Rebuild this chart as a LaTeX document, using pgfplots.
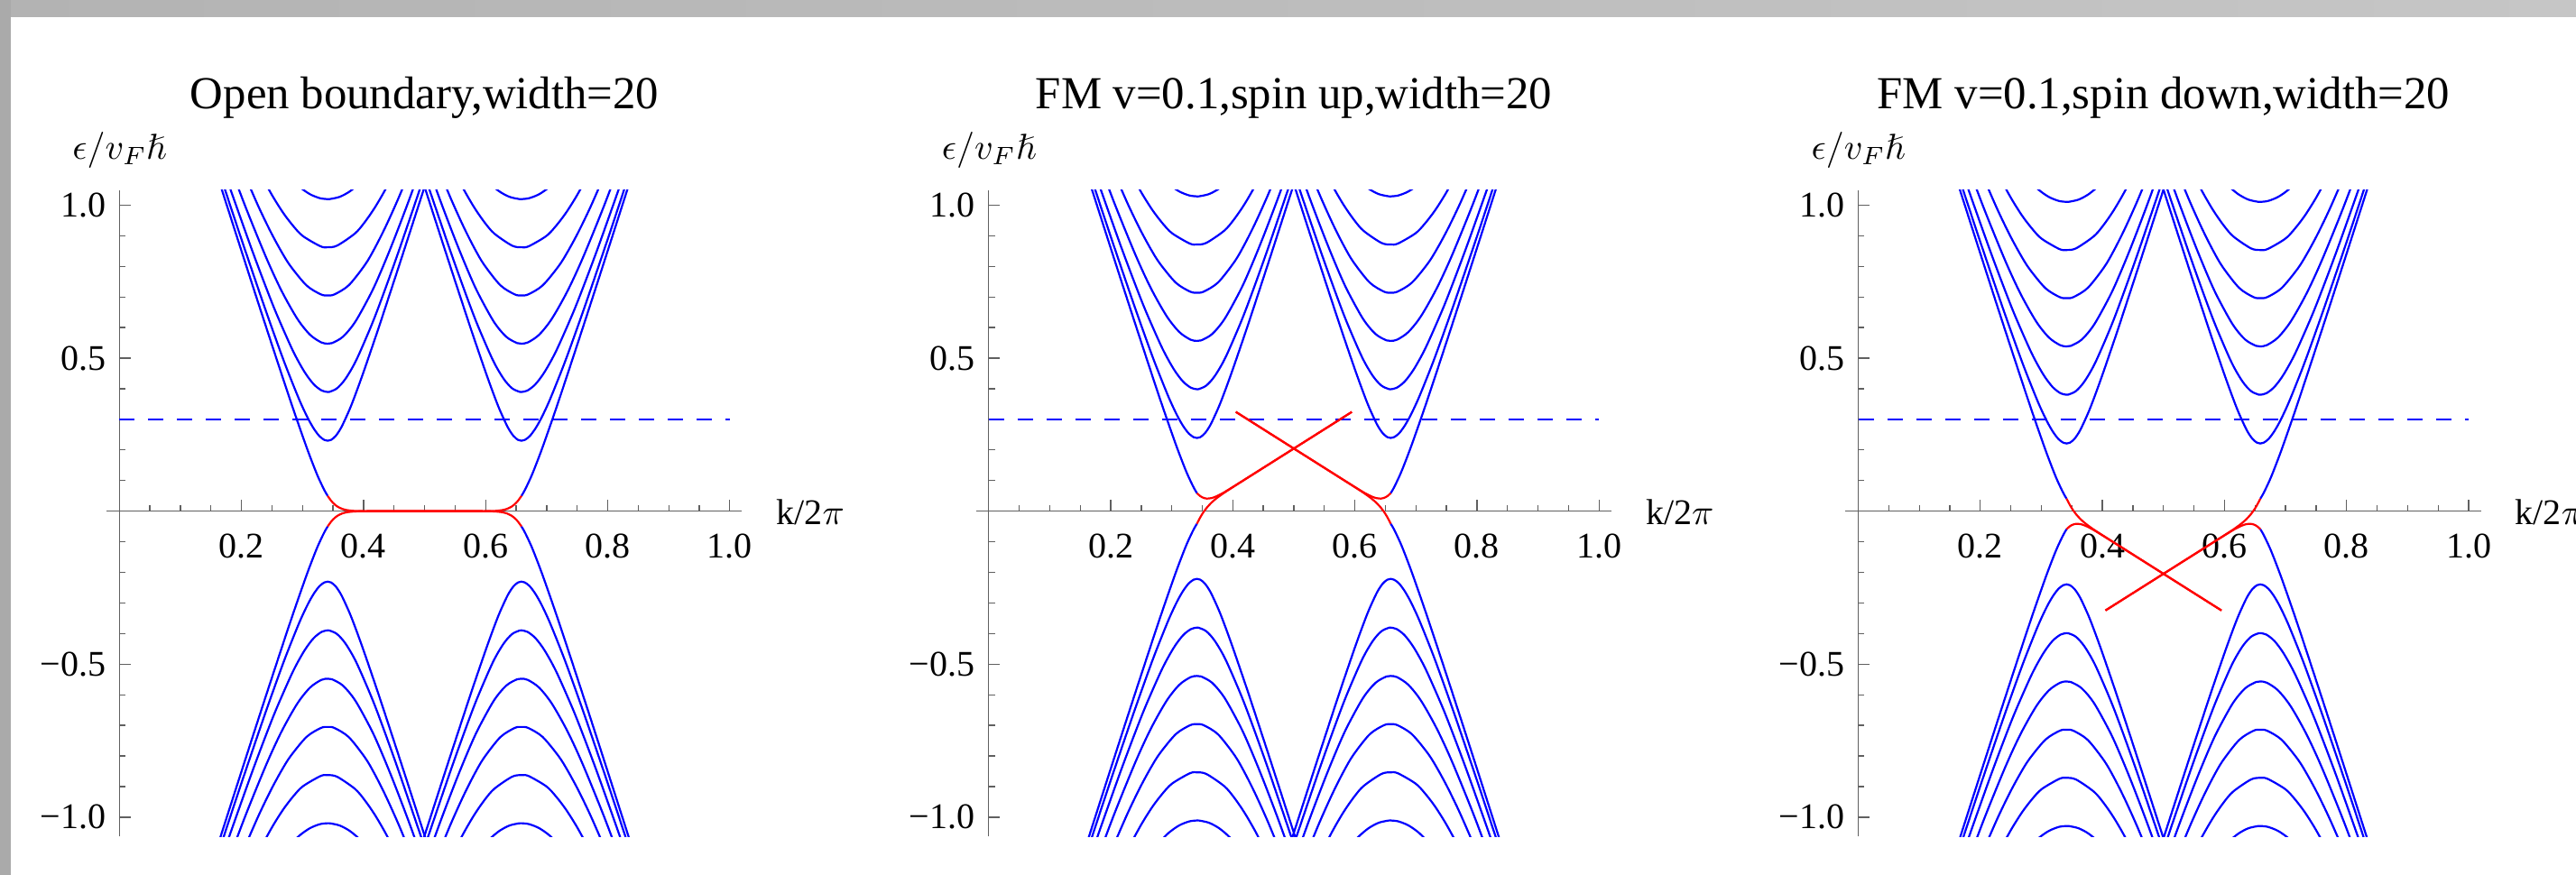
\documentclass[border=0pt]{standalone}
\usepackage{amssymb}
\usepackage{fontspec}
\setmainfont{Liberation Serif}
\usepackage{pgfplots}
\usepackage{pgfplotstable}
\pgfplotsset{compat=1.18}

\definecolor{axgray}{HTML}{606060}
\definecolor{frameA}{HTML}{B3B3B3}
\definecolor{frameB}{HTML}{C6C6C6}

% subbands of the left valley; kr = 1-k gives the right valley
% u1/l1: open boundary, u2/l2: spin up, u3/l3: spin down
\pgfplotstableread{
k kr u1 l1 u2 l2 u3 l3
0.0691 0.9309 1.6674 -1.6674 1.6764 -1.6584 1.6584 -1.6764
0.1659 0.8341 1.0629 -1.0629 1.0719 -1.0539 1.0539 -1.0719
0.2123 0.7877 0.7746 -0.7746 0.7836 -0.7656 0.7656 -0.7836
0.2397 0.7603 0.6061 -0.6061 0.6151 -0.5971 0.5971 -0.6151
0.2707 0.7293 0.4179 -0.4179 0.4269 -0.4089 0.4089 -0.4269
0.2879 0.7121 0.3159 -0.3159 0.3249 -0.3069 0.3069 -0.3249
0.3067 0.6933 0.2089 -0.2089 0.2179 -0.1999 0.1999 -0.2179
0.3189 0.6811 0.1446 -0.1446 0.1536 -0.1356 0.1356 -0.1536
0.3260 0.6740 0.1100 -0.1100 0.1190 -0.1010 0.1010 -0.1190
0.3342 0.6658 0.0752 -0.0752 0.0842 -0.0662 0.0662 -0.0842
0.3384 0.6616 0.0594 -0.0594 0.0684 -0.0504 0.0504 -0.0684
0.3406 0.6594 0.0522 -0.0522 0.0612 -0.0432 0.0432 -0.0612
0.3413 0.6587 0.0500 -0.0500 0.0590 -0.0410 0.0410 -0.0590
}\bandA
\pgfplotstableread{
k kr u1 l1 u2 l2 u3 l3
0.1382 0.8618 1.2626 -1.2626 1.2716 -1.2536 1.2536 -1.2716
0.1745 0.8255 1.0421 -1.0421 1.0511 -1.0331 1.0331 -1.0511
0.2003 0.7997 0.8868 -0.8868 0.8958 -0.8778 0.8778 -0.8958
0.2350 0.7650 0.6834 -0.6834 0.6924 -0.6744 0.6744 -0.6924
0.2574 0.7426 0.5569 -0.5569 0.5659 -0.5479 0.5479 -0.5659
0.2732 0.7268 0.4713 -0.4713 0.4803 -0.4623 0.4623 -0.4803
0.2946 0.7054 0.3649 -0.3649 0.3739 -0.3559 0.3559 -0.3739
0.3089 0.6911 0.3036 -0.3036 0.3126 -0.2946 0.2946 -0.3126
0.3196 0.6804 0.2664 -0.2664 0.2754 -0.2574 0.2574 -0.2754
0.3283 0.6717 0.2441 -0.2441 0.2531 -0.2351 0.2351 -0.2531
0.3360 0.6640 0.2327 -0.2327 0.2417 -0.2237 0.2237 -0.2417
0.3414 0.6586 0.2302 -0.2302 0.2392 -0.2212 0.2212 -0.2392
0.3468 0.6532 0.2329 -0.2329 0.2419 -0.2239 0.2239 -0.2419
0.3545 0.6455 0.2461 -0.2461 0.2551 -0.2371 0.2371 -0.2551
0.3638 0.6362 0.2747 -0.2747 0.2837 -0.2657 0.2657 -0.2837
0.3769 0.6231 0.3313 -0.3313 0.3403 -0.3223 0.3223 -0.3403
0.3864 0.6136 0.3798 -0.3798 0.3888 -0.3708 0.3708 -0.3888
0.4000 0.6000 0.4547 -0.4547 0.4637 -0.4457 0.4457 -0.4637
0.4219 0.5781 0.5823 -0.5823 0.5913 -0.5733 0.5733 -0.5913
0.4390 0.5610 0.6855 -0.6855 0.6945 -0.6765 0.6765 -0.6945
0.4645 0.5355 0.8410 -0.8410 0.8500 -0.8320 0.8320 -0.8500
0.5067 0.4933 1.1013 -1.1013 1.1103 -1.0923 1.0923 -1.1103
}\bandB
\pgfplotstableread{
k kr u1 l1 u2 l2 u3 l3
0.1592 0.8408 1.1834 -1.1834 1.1924 -1.1744 1.1744 -1.1924
0.1821 0.8179 1.0510 -1.0510 1.0600 -1.0420 1.0420 -1.0600
0.2158 0.7842 0.8616 -0.8616 0.8706 -0.8526 0.8526 -0.8706
0.2398 0.7602 0.7338 -0.7338 0.7428 -0.7248 0.7248 -0.7428
0.2579 0.7421 0.6428 -0.6428 0.6518 -0.6338 0.6338 -0.6518
0.2842 0.7158 0.5246 -0.5246 0.5336 -0.5156 0.5156 -0.5336
0.3032 0.6968 0.4555 -0.4555 0.4645 -0.4465 0.4465 -0.4645
0.3183 0.6817 0.4150 -0.4150 0.4240 -0.4060 0.4060 -0.4240
0.3315 0.6685 0.3943 -0.3943 0.4033 -0.3853 0.3853 -0.4033
0.3413 0.6587 0.3895 -0.3895 0.3985 -0.3805 0.3805 -0.3985
0.3439 0.6561 0.3898 -0.3898 0.3988 -0.3808 0.3808 -0.3988
0.3565 0.6435 0.4014 -0.4014 0.4104 -0.3924 0.3924 -0.4104
0.3705 0.6295 0.4328 -0.4328 0.4418 -0.4238 0.4238 -0.4418
0.3881 0.6119 0.4937 -0.4937 0.5027 -0.4847 0.4847 -0.5027
0.4134 0.5866 0.6095 -0.6095 0.6185 -0.6005 0.6005 -0.6185
0.4321 0.5679 0.7074 -0.7074 0.7164 -0.6984 0.6984 -0.7164
0.4591 0.5409 0.8581 -0.8581 0.8671 -0.8491 0.8491 -0.8671
0.5027 0.4973 1.1138 -1.1138 1.1228 -1.1048 1.1048 -1.1228
}\bandC
\pgfplotstableread{
k kr u1 l1 u2 l2 u3 l3
0.1743 0.8257 1.1663 -1.1663 1.1753 -1.1573 1.1573 -1.1753
0.2063 0.7937 0.9963 -0.9963 1.0053 -0.9873 0.9873 -1.0053
0.2408 0.7592 0.8275 -0.8275 0.8365 -0.8185 0.8185 -0.8365
0.2660 0.7340 0.7189 -0.7189 0.7279 -0.7099 0.7099 -0.7279
0.2917 0.7083 0.6282 -0.6282 0.6372 -0.6192 0.6192 -0.6372
0.3125 0.6875 0.5763 -0.5763 0.5853 -0.5673 0.5673 -0.5853
0.3308 0.6692 0.5515 -0.5515 0.5605 -0.5425 0.5425 -0.5605
0.3413 0.6587 0.5475 -0.5475 0.5565 -0.5385 0.5385 -0.5565
0.3482 0.6518 0.5492 -0.5492 0.5582 -0.5402 0.5402 -0.5582
0.3662 0.6338 0.5700 -0.5700 0.5790 -0.5610 0.5610 -0.5790
0.3866 0.6134 0.6194 -0.6194 0.6284 -0.6104 0.6104 -0.6284
0.4124 0.5876 0.7127 -0.7127 0.7217 -0.7037 0.7037 -0.7217
0.4290 0.5710 0.7858 -0.7858 0.7948 -0.7768 0.7768 -0.7948
0.4499 0.5501 0.8877 -0.8877 0.8967 -0.8787 0.8787 -0.8967
0.4779 0.5221 1.0351 -1.0351 1.0441 -1.0261 1.0261 -1.0441
0.5183 0.4817 1.2615 -1.2615 1.2705 -1.2525 1.2525 -1.2705
}\bandD
\pgfplotstableread{
k kr u1 l1 u2 l2 u3 l3
0.2033 0.7967 1.1079 -1.1079 1.1169 -1.0989 1.0989 -1.1169
0.2276 0.7724 0.9968 -0.9968 1.0058 -0.9878 0.9878 -1.0058
0.2478 0.7522 0.9132 -0.9132 0.9222 -0.9042 0.9042 -0.9222
0.2651 0.7349 0.8495 -0.8495 0.8585 -0.8405 0.8405 -0.8585
0.2803 0.7197 0.8010 -0.8010 0.8100 -0.7920 0.7920 -0.8100
0.3067 0.6933 0.7376 -0.7376 0.7466 -0.7286 0.7286 -0.7466
0.3300 0.6700 0.7086 -0.7086 0.7176 -0.6996 0.6996 -0.7176
0.3413 0.6587 0.7051 -0.7051 0.7141 -0.6961 0.6961 -0.7141
0.3525 0.6475 0.7086 -0.7086 0.7176 -0.6996 0.6996 -0.7176
0.3759 0.6241 0.7385 -0.7385 0.7475 -0.7295 0.7295 -0.7475
0.4027 0.5973 0.8061 -0.8061 0.8151 -0.7971 0.7971 -0.8151
0.4184 0.5816 0.8596 -0.8596 0.8686 -0.8506 0.8506 -0.8686
0.4366 0.5634 0.9316 -0.9316 0.9406 -0.9226 0.9226 -0.9406
0.4587 0.5413 1.0297 -1.0297 1.0387 -1.0207 1.0207 -1.0387
0.4865 0.5135 1.1659 -1.1659 1.1749 -1.1569 1.1569 -1.1749
0.5036 0.4964 1.2547 -1.2547 1.2637 -1.2457 1.2457 -1.2637
}\bandE
\pgfplotstableread{
k kr u1 l1 u2 l2 u3 l3
0.2296 0.7704 1.1075 -1.1075 1.1165 -1.0985 1.0985 -1.1165
0.2505 0.7495 1.0315 -1.0315 1.0405 -1.0225 1.0225 -1.0405
0.2688 0.7312 0.9737 -0.9737 0.9827 -0.9647 0.9647 -0.9827
0.2855 0.7145 0.9304 -0.9304 0.9394 -0.9214 0.9214 -0.9394
0.3008 0.6992 0.8989 -0.8989 0.9079 -0.8899 0.8899 -0.9079
0.3293 0.6707 0.8658 -0.8658 0.8748 -0.8568 0.8568 -0.8748
0.3413 0.6587 0.8625 -0.8625 0.8715 -0.8535 0.8535 -0.8715
0.3568 0.6432 0.8680 -0.8680 0.8770 -0.8590 0.8590 -0.8770
0.3856 0.6144 0.9070 -0.9070 0.9160 -0.8980 0.8980 -0.9160
0.4014 0.5986 0.9430 -0.9430 0.9520 -0.9340 0.9340 -0.9520
0.4187 0.5813 0.9928 -0.9928 1.0018 -0.9838 0.9838 -1.0018
0.4382 0.5618 1.0601 -1.0601 1.0691 -1.0511 1.0511 -1.0691
0.4609 0.5391 1.1506 -1.1506 1.1596 -1.1416 1.1416 -1.1596
}\bandF
\pgfplotstableread{
k kr u1 l1 u2 l2 u3 l3
0.2769 0.7231 1.0964 -1.0964 1.1054 -1.0874 1.0874 -1.1054
0.2950 0.7050 1.0602 -1.0602 1.0692 -1.0512 1.0512 -1.0692
0.3121 0.6879 1.0361 -1.0361 1.0451 -1.0271 1.0271 -1.0451
0.3286 0.6714 1.0229 -1.0229 1.0319 -1.0139 1.0139 -1.0319
0.3413 0.6587 1.0198 -1.0198 1.0288 -1.0108 1.0108 -1.0288
0.3448 0.6552 1.0200 -1.0200 1.0290 -1.0110 1.0110 -1.0290
0.3611 0.6389 1.0274 -1.0274 1.0364 -1.0184 1.0184 -1.0364
0.3779 0.6221 1.0456 -1.0456 1.0546 -1.0366 1.0366 -1.0546
0.3954 0.6046 1.0756 -1.0756 1.0846 -1.0666 1.0666 -1.0846
0.4141 0.5859 1.1192 -1.1192 1.1282 -1.1102 1.1102 -1.1282
0.4348 0.5652 1.1795 -1.1795 1.1885 -1.1705 1.1705 -1.1885
}\bandG
% edge states (red)
\pgfplotstableread{
k kr u1 l1 u2 l2 u3 l3
0.3413 0.6587 0.0500 -0.0500 0.0590 -0.0410 0.0410 -0.0590
0.3419 0.6581 0.0480 -0.0480 0.0576 -0.0384 0.0384 -0.0576
0.3438 0.6562 0.0426 -0.0426 0.0542 -0.0310 0.0310 -0.0542
0.3465 0.6535 0.0352 -0.0352 0.0495 -0.0209 0.0209 -0.0495
0.3498 0.6502 0.0276 -0.0276 0.0455 -0.0097 0.0097 -0.0455
0.3535 0.6465 0.0207 -0.0207 0.0426 0.0012 -0.0012 -0.0426
0.3573 0.6427 0.0150 -0.0150 0.0412 0.0112 -0.0112 -0.0412
0.3652 0.6348 0.0073 -0.0073 0.0428 0.0282 -0.0282 -0.0428
0.3731 0.6269 0.0034 -0.0034 0.0485 0.0417 -0.0417 -0.0485
0.3811 0.6189 0.0015 -0.0015 0.0565 0.0535 -0.0535 -0.0565
0.3890 0.6110 0.0006 -0.0006 0.0655 0.0643 -0.0643 -0.0655
0.4200 0.5800 0.0000 0.0000 0.1039 0.1039 -0.1039 -0.1039
0.5000 0.5000 0.0000 0.0000 0.2047 0.2047 -0.2047 -0.2047
0.5950 0.4050 0.0000 0.0000 0.3244 0.3244 -0.3244 -0.3244
}\edges

\pgfplotsset{
  band/.style={blue, line width=0.55pt, smooth, no marks},
  edge/.style={red, line width=0.55pt, smooth, no marks},
  panel/.style={
    anchor=origin, x=169.125pt, y=84.8pt,
    xmin=-0.021, xmax=1.02, ymin=-1.063, ymax=1.05,
    axis lines=middle,
    axis line style={draw=axgray, line width=0.33pt, -},
    tick style={draw=axgray, line width=0.33pt},
    tick align=inside,
    major tick length=3.1pt, minor tick length=1.7pt,
    xtick={0.2,0.4,0.6,0.8,1.0}, xticklabels={0.2,0.4,0.6,0.8,1.0},
    minor xtick={0.05,0.1,0.15,0.25,0.3,0.35,0.45,0.5,0.55,0.65,0.7,0.75,0.85,0.9,0.95},
    ytick={-1,-0.5,0.5,1}, yticklabels={−1.0,−0.5,0.5,1.0},
    minor ytick={-0.9,-0.8,-0.7,-0.6,-0.4,-0.3,-0.2,-0.1,0.1,0.2,0.3,0.4,0.6,0.7,0.8,0.9},
    xticklabel style={anchor=base, yshift=-12.9pt, inner sep=0pt, font=\fontsize{10}{12}\selectfont},
    yticklabel style={anchor=east, xshift=-3.6pt, inner sep=0pt, font=\fontsize{10}{12}\selectfont},
    clip mode=individual,
  },
}

\newcommand{\drawband}[3]{%
  \addplot[band] table[x=k,y=#2]{#1};
  \addplot[band] table[x=kr,y=#2]{#1};
  \addplot[band] table[x=k,y=#3]{#1};
  \addplot[band] table[x=kr,y=#3]{#1};
}
\newcommand{\panelbody}[3]{%
  \drawband{\bandA}{#1}{#2}
  \drawband{\bandB}{#1}{#2}
  \drawband{\bandC}{#1}{#2}
  \drawband{\bandD}{#1}{#2}
  \drawband{\bandE}{#1}{#2}
  \drawband{\bandF}{#1}{#2}
  \drawband{\bandG}{#1}{#2}
  \addplot[blue, line width=0.55pt, dash pattern=on 4.25pt off 3.75pt] coordinates {(0,0.3) (1,0.3)};
  \addplot[edge] table[x=k,y=#1]{\edges};
  \addplot[edge] table[x=kr,y=#1]{\edges};
  \addplot[edge] table[x=k,y=#2]{\edges};
  \addplot[edge] table[x=kr,y=#2]{\edges};
  \node[anchor=base, inner sep=0pt, font=\fontsize{12.7}{15}\selectfont] at (axis cs:0.5,1.316) {#3};
  \node[anchor=base, inner sep=0pt, font=\fontsize{10}{12}\selectfont] at (axis cs:0,1.15) {$\epsilon/v_F\hslash$};
  \node[anchor=base west, inner sep=0pt, font=\fontsize{10}{12}\selectfont] at (axis cs:1.0754,-0.044) {k/2$\pi$};
}

\begin{document}
\begin{tikzpicture}
\useasboundingbox (0,0) rectangle (713.75pt,242.5pt);
\clip (0,0) rectangle (713.75pt,242.5pt);
\fill[white] (0,0) rectangle (713.75pt,242.5pt);
\shade[left color=frameA, right color=frameB] (0,237.75pt) rectangle (713.75pt,242.5pt);
\fill[frameA!95!black] (0,0) rectangle (3pt,242.5pt);

\begin{axis}[panel, at={(33.075pt,100.825pt)}]
  \panelbody{u1}{l1}{Open boundary,width=20}
\end{axis}

\begin{axis}[panel, at={(273.925pt,100.825pt)}]
  \panelbody{u2}{l2}{FM v=0.1,spin up,width=20}
\end{axis}

\begin{axis}[panel, at={(514.875pt,100.825pt)}]
  \panelbody{u3}{l3}{FM v=0.1,spin down,width=20}
\end{axis}
\end{tikzpicture}
\end{document}
